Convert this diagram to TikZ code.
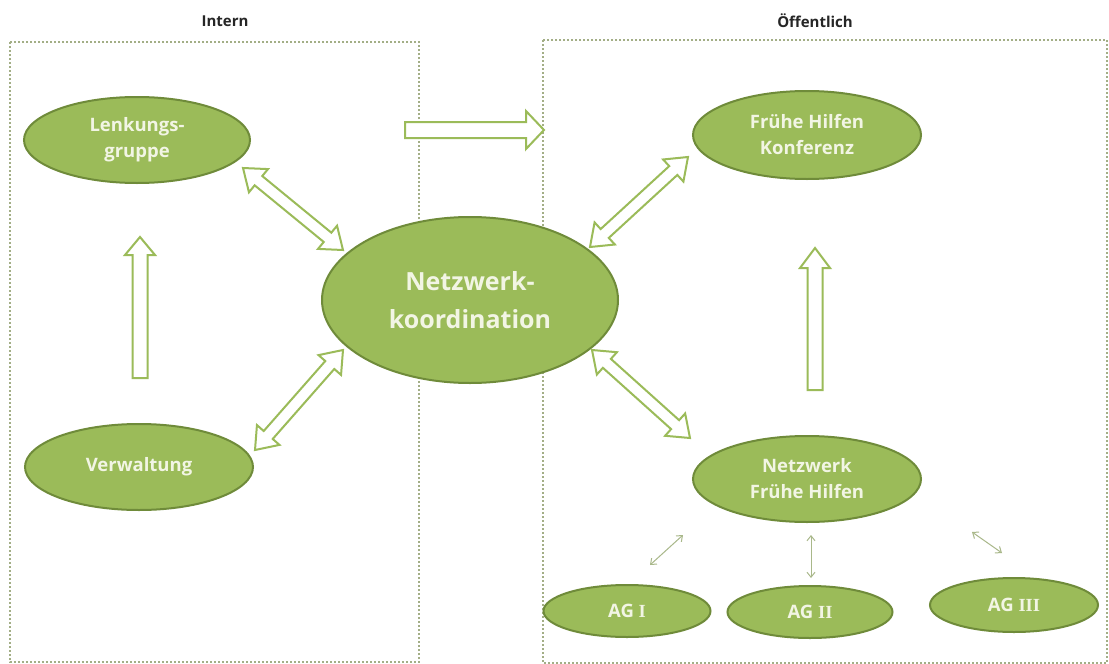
\documentclass[tikz,border=0pt]{standalone}
\usepackage{fontspec}
\setmainfont{Open Sans}
\newfontfamily\romfont{Liberation Serif}
\usetikzlibrary{shapes.geometric,calc,arrows.meta}
\definecolor{olfill}{HTML}{9BBB59}
\definecolor{oldraw}{HTML}{6F8B3A}
\definecolor{arrcol}{HTML}{9BBB59}
\definecolor{dotcol}{HTML}{A3AE86}
\definecolor{txtcol}{HTML}{F2F5E4}
\definecolor{thincol}{HTML}{A9B88A}
\tikzset{
  ell/.style={ellipse, fill=olfill, draw=oldraw, line width=2pt, inner sep=0pt,
    text=txtcol, align=center, font=\fontsize{18.5}{26}\selectfont\bfseries},
  dotbox/.style={draw=dotcol, line width=2.2pt, dash pattern=on 2pt off 2pt},
  blockarr/.style={draw=arrcol, fill=white, line width=2pt, line join=miter},
  thinarr/.style={draw=thincol, line width=1pt, {Straight Barb[length=5pt,width=8pt]}-{Straight Barb[length=5pt,width=8pt]}},
  title/.style={font=\fontsize{15}{17}\selectfont\bfseries, text=black!85}
}
% double block arrow: #1 from, #2 to, #3 head length, #4 half shaft, #5 half head
\newcommand\dblblock[5]{%
  \coordinate (ba-p) at ($(#1)!#3!(#2)$);
  \coordinate (ba-q) at ($(#2)!#3!(#1)$);
  \draw[blockarr] (#1) -- ($(ba-p)!#5!90:(#2)$) -- ($(ba-p)!#4!90:(#2)$)
    -- ($(ba-q)!#4!-90:(#1)$) -- ($(ba-q)!#5!-90:(#1)$) -- (#2)
    -- ($(ba-q)!#5!90:(#1)$) -- ($(ba-q)!#4!90:(#1)$)
    -- ($(ba-p)!#4!-90:(#2)$) -- ($(ba-p)!#5!-90:(#2)$) -- cycle;}
% single block arrow
\newcommand\sglblock[5]{%
  \coordinate (ba-q) at ($(#2)!#3!(#1)$);
  \draw[blockarr] ($(#1)!#4!90:(#2)$) -- ($(ba-q)!#4!-90:(#1)$) -- ($(ba-q)!#5!-90:(#1)$)
    -- (#2) -- ($(ba-q)!#5!90:(#1)$) -- ($(ba-q)!#4!90:(#1)$) -- ($(#1)!#4!-90:(#2)$) -- cycle;}
\begin{document}
\begin{tikzpicture}[x=1pt,y=-1pt]
\useasboundingbox (0,0) rectangle (1109,664);
\fill[white] (0,0) rectangle (1109,664);
% boxes
\draw[dotbox] (10,42) rectangle (419,662);
\draw[dotbox] (543,40) rectangle (1107,663);
\node[title] (intern) at (225,21) {Intern};
\node[title] (oeff) at (815,21) {Öffentlich};
% nodes
\node[ell, minimum width=226pt, minimum height=86pt] (lenk) at (137,140) {Lenkungs-\\gruppe};
\node[ell, minimum width=228pt, minimum height=86pt] (verw) at (139,467) {Verwaltung};
\node[ell, minimum width=296pt, minimum height=166pt, font=\fontsize{25}{38}\selectfont\bfseries] (nk) at (470,300) {Netzwerk-\\koordination};
\node[ell, minimum width=228pt, minimum height=88pt] (fhk) at (807,135) {Frühe Hilfen\\Konferenz};
\node[ell, minimum width=228pt, minimum height=86pt] (nfh) at (807,479) {Netzwerk\\Frühe Hilfen};
\node[ell, minimum width=167pt, minimum height=52pt] (ag1) at (627,611) {AG {\romfont I}};
\node[ell, minimum width=165pt, minimum height=52pt] (ag2) at (810,612) {AG {\romfont II}};
\node[ell, minimum width=168pt, minimum height=54pt] (ag3) at (1014,605) {AG {\romfont III}};
% arrow end points
\coordinate (r1a) at (405,130); \coordinate (r1b) at (544,130);
\coordinate (u1a) at (140,378); \coordinate (u1b) at (140,237);
\coordinate (d1a) at (243,168); \coordinate (d1b) at (343,250);
\coordinate (d2a) at (255,450); \coordinate (d2b) at (343,350);
\coordinate (d3a) at (590,247); \coordinate (d3b) at (688,157);
\coordinate (d4a) at (592,350); \coordinate (d4b) at (690,438);
\coordinate (u2a) at (815,390); \coordinate (u2b) at (815,248);
\coordinate (t1a) at (650,565); \coordinate (t1b) at (683,535);
\coordinate (t2a) at (811,535); \coordinate (t2b) at (811,578);
\coordinate (t3a) at (972,532); \coordinate (t3b) at (1002,553);
% block arrows
\sglblock{r1a}{r1b}{18pt}{8pt}{19pt}
\sglblock{u1a}{u1b}{18pt}{7.5pt}{15pt}
\sglblock{u2a}{u2b}{20pt}{7.5pt}{15pt}
\dblblock{d1a}{d1b}{20pt}{6pt}{15pt}
\dblblock{d2a}{d2b}{20pt}{6pt}{15pt}
\dblblock{d3a}{d3b}{20pt}{6pt}{15pt}
\dblblock{d4a}{d4b}{20pt}{6pt}{15pt}
% thin arrows
\draw[thinarr] (t1a) -- (t1b);
\draw[thinarr] (t2a) -- (t2b);
\draw[thinarr] (t3a) -- (t3b);
\end{tikzpicture}
\end{document}
